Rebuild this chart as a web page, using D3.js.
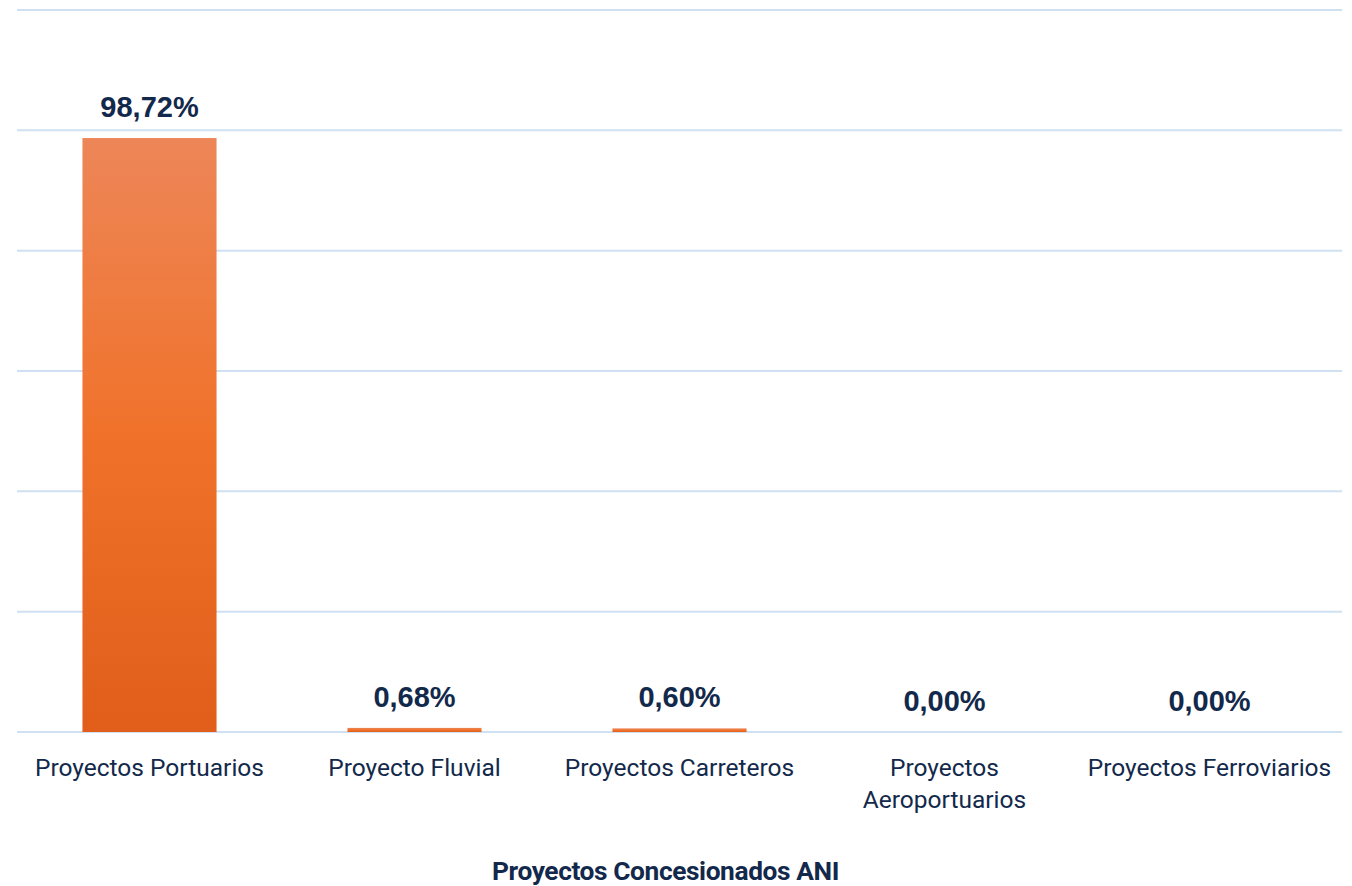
<!DOCTYPE html>
<html>
<head>
<meta charset="utf-8">
<script src="https://cdn.jsdelivr.net/npm/d3@7"></script>
<style>
  body { margin: 0; background: #fff; }
  svg { display: block; }
</style>
</head>
<body>
<script>
// datos
var categories = ["Proyectos Portuarios", "Proyecto Fluvial", "Proyectos Carreteros", "Proyectos Aeroportuarios", "Proyectos Ferroviarios"];
var values = [98.72, 0.68, 0.60, 0.00, 0.00];
var yTicks = [0, 20, 40, 60, 80, 100, 120];
var axisTitle = "Proyectos Concesionados ANI";

var width = 1352;
var height = 886;

var svg = d3.select("body")
  .append("svg")
  .attr("width", width)
  .attr("height", height);

// degradado de las barras
var grad = svg.append("defs").append("linearGradient")
  .attr("id", "barGrad")
  .attr("x1", 0).attr("y1", 0).attr("x2", 0).attr("y2", 1);
grad.append("stop").attr("offset", "0%").attr("stop-color", "#ED8658");
grad.append("stop").attr("offset", "50%").attr("stop-color", "#F0722A");
grad.append("stop").attr("offset", "100%").attr("stop-color", "#E05E1A");

var plot = { left: 17, right: 1342, top: 10, bottom: 732 };

var xScale = d3.scaleBand()
  .domain(categories)
  .range([plot.left, plot.right])
  .paddingInner(0.494)
  .paddingOuter(0.247);

var yScale = d3.scaleLinear()
  .domain([0, 120])
  .range([plot.bottom, plot.top]);

// lineas de cuadricula
svg.append("g")
  .selectAll("line")
  .data(yTicks)
  .enter()
  .append("line")
  .attr("x1", plot.left)
  .attr("x2", plot.right)
  .attr("y1", function (d) { return yScale(d); })
  .attr("y2", function (d) { return yScale(d); })
  .attr("stroke", "#CFE0F3")
  .attr("stroke-width", 2);

// barras
svg.append("g")
  .selectAll("rect")
  .data(values)
  .enter()
  .append("rect")
  .attr("x", function (d, i) { return xScale(categories[i]); })
  .attr("width", xScale.bandwidth())
  .attr("y", function (d) { return yScale(d); })
  .attr("height", function (d) { return yScale(0) - yScale(d); })
  .attr("fill", "url(#barGrad)");

// etiquetas de valor
svg.append("g")
  .selectAll("text")
  .data(values)
  .enter()
  .append("text")
  .attr("x", function (d, i) { return xScale(categories[i]) + xScale.bandwidth() / 2; })
  .attr("y", function (d) { return yScale(d) - 21; })
  .attr("text-anchor", "middle")
  .attr("font-family", "'Liberation Sans', Arial, sans-serif")
  .attr("font-weight", "bold")
  .attr("font-size", 29)
  .attr("fill", "#13294B")
  .text(function (d) { return d.toFixed(2).replace(".", ",") + "%"; });

// etiquetas de categoria (con ajuste de linea)
var maxLabel = xScale.step() - 14;
var catLabels = svg.append("g")
  .selectAll("text")
  .data(categories)
  .enter()
  .append("text")
  .attr("x", function (d) { return xScale(d) + xScale.bandwidth() / 2; })
  .attr("y", 776)
  .attr("text-anchor", "middle")
  .attr("font-family", "Roboto, sans-serif")
  .attr("font-size", 24.5)
  .attr("fill", "#13294B");

catLabels.each(function (d) {
  var el = d3.select(this);
  var cx = el.attr("x");
  var words = d.split(" ");
  var line = [];
  var tspan = el.append("tspan").attr("x", cx).attr("dy", 0);
  words.forEach(function (w) {
    line.push(w);
    tspan.text(line.join(" "));
    if (tspan.node().getComputedTextLength() > maxLabel && line.length > 1) {
      line.pop();
      tspan.text(line.join(" "));
      line = [w];
      tspan = el.append("tspan").attr("x", cx).attr("dy", 32).text(w);
    }
  });
});

// titulo del eje
svg.append("text")
  .attr("x", (plot.left + plot.right) / 2 - 14)
  .attr("y", 880)
  .attr("text-anchor", "middle")
  .attr("font-family", "Roboto, sans-serif")
  .attr("font-weight", "bold")
  .attr("font-size", 26.3)
  .attr("letter-spacing", -0.4)
  .attr("fill", "#13294B")
  .text(axisTitle);
</script>
</body>
</html>
